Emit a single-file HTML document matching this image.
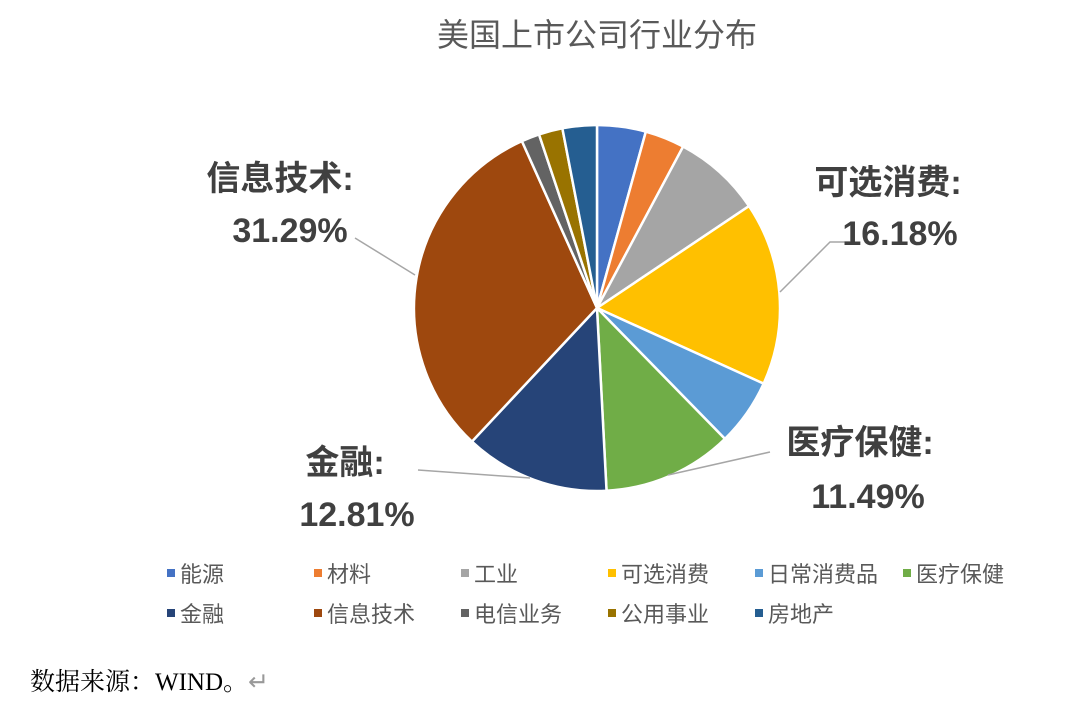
<!DOCTYPE html>
<html><head><meta charset="utf-8"><style>
body{margin:0;background:#fff;}
svg{display:block;font-family:"Liberation Sans","Noto Sans CJK SC",sans-serif;}
</style></head><body>
<svg width="1080" height="722">
<text x="597" y="46" text-anchor="middle" font-size="32" fill="#595959">美国上市公司行业分布</text>
<g id="slices"></g>
<g fill="#404040" font-weight="bold" font-size="34">
<polyline points="415,275 355,238" stroke="#A6A6A6" stroke-width="1.5" fill="none"/>
<text x="280" y="190" text-anchor="middle">信息技术:</text>
<text x="290" y="242" text-anchor="middle">31.29%</text>
<polyline points="780,292 830,242 850,242" stroke="#A6A6A6" stroke-width="1.5" fill="none"/>
<text x="888" y="194" text-anchor="middle">可选消费:</text>
<text x="900" y="245" text-anchor="middle">16.18%</text>
<polyline points="668,475 770,452" stroke="#A6A6A6" stroke-width="1.5" fill="none"/>
<text x="860" y="454" text-anchor="middle">医疗保健:</text>
<text x="868" y="508" text-anchor="middle">11.49%</text>
<polyline points="418,470 530,478" stroke="#A6A6A6" stroke-width="1.5" fill="none"/>
<text x="345" y="474" text-anchor="middle">金融:</text>
<text x="357" y="526" text-anchor="middle">12.81%</text>
</g>
<g id="legend" font-size="22" fill="#595959"></g>
<text x="30" y="690" font-family="'Liberation Serif','Noto Serif CJK SC',serif" font-size="25" fill="#000">数据来源：WIND。<tspan fill="#999">↵</tspan></text>
</svg>
<script>
const categories=["能源","材料","工业","可选消费","日常消费品","医疗保健","金融","信息技术","电信业务","公用事业","房地产"];
const values=[4.3,3.5,7.8,16.18,5.9,11.49,12.81,31.29,1.6,2.1,3.03];
const colors=["#4472C4","#ED7D31","#A5A5A5","#FFC000","#5B9BD5","#70AD47","#264478","#9E480E","#636363","#997300","#255E91"];
const NS="http://www.w3.org/2000/svg";
const cx=597,cy=308,r=183;
const total=values.reduce((a,b)=>a+b,0);
const g=document.getElementById('slices');
let a0=0;
values.forEach((v,i)=>{
  const a1=a0+v/total*2*Math.PI;
  const x0=cx+r*Math.sin(a0),y0=cy-r*Math.cos(a0),x1=cx+r*Math.sin(a1),y1=cy-r*Math.cos(a1);
  const p=document.createElementNS(NS,'path');
  p.setAttribute('d',`M${cx},${cy}L${x0},${y0}A${r},${r} 0 ${a1-a0>Math.PI?1:0} 1 ${x1},${y1}Z`);
  p.setAttribute('fill',colors[i]);p.setAttribute('stroke','#fff');p.setAttribute('stroke-width','2.5');
  
  
  g.appendChild(p);a0=a1;
});
const lg=document.getElementById('legend');
const colX=[171,318,465,612,759,907];
categories.forEach((c,i)=>{
  const x=colX[i%6],y=i<6?574:614;
  const it=document.createElementNS(NS,'g');
  
  
  const m=document.createElementNS(NS,'rect');
  m.setAttribute('x',x-4);m.setAttribute('y',y-5);m.setAttribute('width',8);m.setAttribute('height',8);m.setAttribute('fill',colors[i]);
  const t=document.createElementNS(NS,'text');
  t.setAttribute('x',x+9);t.setAttribute('y',y+8);t.textContent=c;
  it.appendChild(m);it.appendChild(t);lg.appendChild(it);
});
</script>
</body></html>
